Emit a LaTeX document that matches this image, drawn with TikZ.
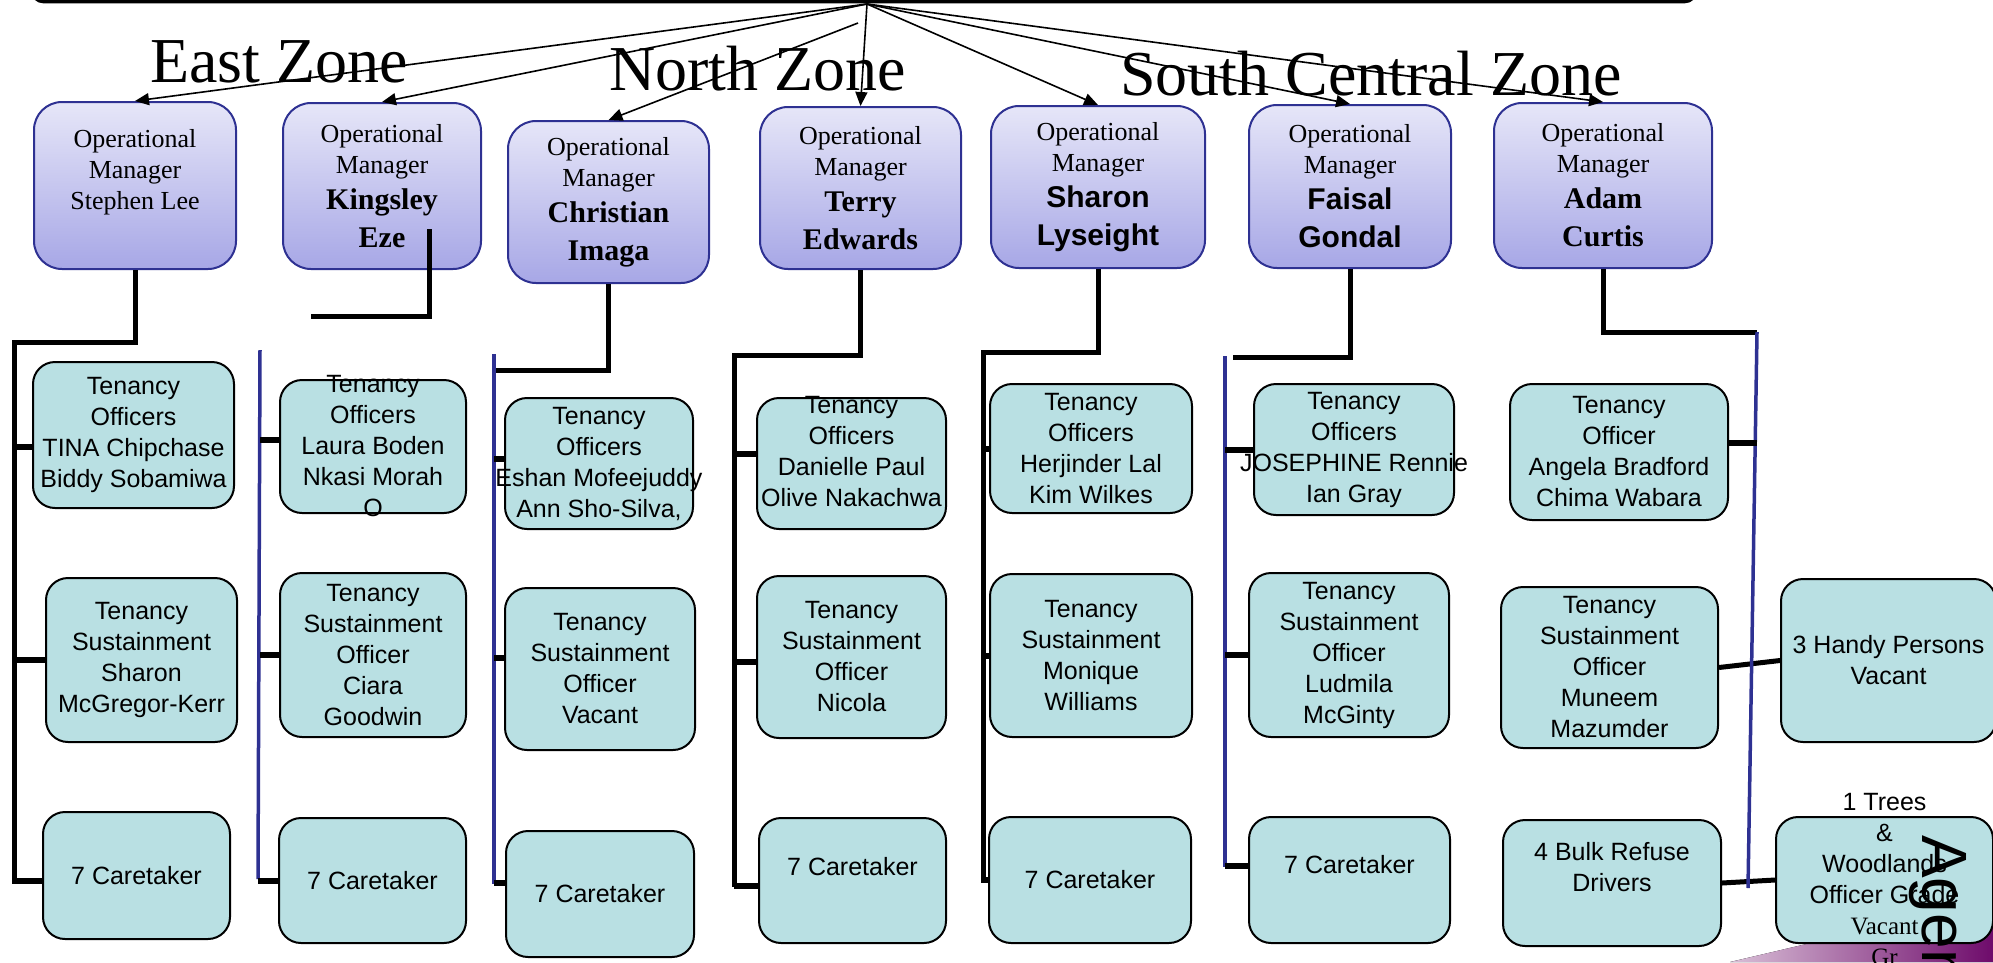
\documentclass[tikz,border=0pt]{standalone}
\usepackage{fontspec}
\setmainfont{Liberation Serif}
\setsansfont{Liberation Sans}
\usetikzlibrary{arrows.meta}
\definecolor{navy}{HTML}{2E3192}
\definecolor{lilactop}{HTML}{E6E6F8}
\definecolor{lilacbot}{HTML}{A7A7E6}
\definecolor{kidfill}{HTML}{B9E0E3}
\definecolor{plumA}{HTML}{D9BFD7}
\definecolor{plumB}{HTML}{A56BA1}
\definecolor{plumC}{HTML}{6E0B6B}
\newcommand\nmb{\fontsize{30}{38}\selectfont\bfseries}
\newcommand\nms{\fontsize{30}{38}\selectfont\sffamily\bfseries}
\begin{document}
\begin{tikzpicture}[x=1pt,y=-1pt,
 mgr/.style={draw=navy,line width=2pt,rounded corners=28pt,top color=lilactop,bottom color=lilacbot},
 mtxt/.style={align=center,inner sep=0pt,font=\fontsize{26}{31}\selectfont},
 kid/.style={draw,line width=2pt,rounded corners=22pt,fill=kidfill},
 ktxt/.style={align=center,inner sep=0pt,font=\fontsize{25}{31}\selectfont\sffamily},
 zone/.style={anchor=base west,inner sep=0pt,font=\fontsize{64}{70}\selectfont},
 feed/.style={line width=1.6pt,-{Triangle[length=14pt,width=12pt]}},
 wire/.style={line width=5pt},
 stub/.style={line width=6pt},
 bus/.style={line width=3.5pt,draw=navy}]
\useasboundingbox (0,0) rectangle (1993,962);
\fill[left color=plumA,middle color=plumB,right color=plumC] (1730,962) -- (1993,900) -- (1993,962) -- cycle;
\draw[line width=3.5pt,rounded corners=10pt] (33,-30) -- (33,1.5) -- (1695,1.5) -- (1695,-30);
\node[zone] (east) at (150,82) {East Zone};
\node[zone] (north) at (609,90) {North Zone};
\node[zone] (south) at (1120,95) {South Central Zone};
\path (135,185.5) node[mgr,minimum width=202pt,minimum height=167pt] (m1) {} node[mtxt,yshift=13pt] (m1t) {Operational\\Manager\\Stephen Lee};
\path (382,186) node[mgr,minimum width=198pt,minimum height=166pt] (m2) {} node[mtxt] (m2t) {Operational\\Manager\\[5pt]\nmb Kingsley\\[7pt]\nmb Eze};
\path (608.5,202) node[mgr,minimum width=201pt,minimum height=162pt] (m3) {} node[mtxt] (m3t) {Operational\\Manager\\[5pt]\nmb Christian\\[7pt]\nmb Imaga};
\path (860.5,188) node[mgr,minimum width=201pt,minimum height=162pt] (m4) {} node[mtxt] (m4t) {Operational\\Manager\\[5pt]\nmb Terry\\[7pt]\nmb Edwards};
\path (1098,187) node[mgr,minimum width=214pt,minimum height=162pt] (m5) {} node[mtxt] (m5t) {Operational\\Manager\\[5pt]\nms Sharon\\[7pt]\nms Lyseight};
\path (1350,186.5) node[mgr,minimum width=202pt,minimum height=163pt] (m6) {} node[mtxt] (m6t) {Operational\\Manager\\[5pt]\nms Faisal\\[7pt]\nms Gondal};
\path (1603,185.5) node[mgr,minimum width=218pt,minimum height=165pt] (m7) {} node[mtxt] (m7t) {Operational\\Manager\\[5pt]\nmb Adam\\[7pt]\nmb Curtis};
\coordinate (hub) at (867,4); \coordinate (hubb) at (858,23);
\draw[feed] (hub) -- (m1.north);
\draw[feed] (hub) -- (m2.north);
\draw[feed] (hubb) -- (m3.north);
\draw[feed] (hub) -- (m4.north);
\draw[feed] (hub) -- (m5.north);
\draw[feed] (hub) -- (m6.north);
\draw[feed] (hub) -- (m7.north);
\path (133.5,435) node[kid,minimum width=201pt,minimum height=146pt] (a1) {} node[ktxt] (a1t) {Tenancy\\Officers\\TINA Chipchase\\Biddy Sobamiwa};
\path (141.5,660) node[kid,minimum width=191pt,minimum height=164pt] (b1) {} node[ktxt] (b1t) {Tenancy\\Sustainment\\Sharon\\McGregor-Kerr};
\path (136.5,875.5) node[kid,minimum width=187pt,minimum height=127pt] (c1) {} node[ktxt] (c1t) {7 Caretaker};
\path (373,446.5) node[kid,minimum width=186pt,minimum height=133pt] (a2) {} node[ktxt] (a2t) {Tenancy\\Officers\\Laura Boden\\Nkasi Morah\\O};
\path (373,655) node[kid,minimum width=186pt,minimum height=164pt] (b2) {} node[ktxt] (b2t) {Tenancy\\Sustainment\\Officer\\Ciara\\Goodwin};
\path (372.5,880.5) node[kid,minimum width=187pt,minimum height=125pt] (c2) {} node[ktxt] (c2t) {7 Caretaker};
\path (599,463.5) node[kid,minimum width=188pt,minimum height=131pt] (a3) {} node[ktxt] (a3t) {Tenancy\\Officers\\Eshan Mofeejuddy\\Ann Sho-Silva,};
\path (600,669) node[kid,minimum width=190pt,minimum height=162pt] (b3) {} node[ktxt] (b3t) {Tenancy\\Sustainment\\Officer\\Vacant};
\path (600,894) node[kid,minimum width=188pt,minimum height=126pt] (c3) {} node[ktxt] (c3t) {7 Caretaker};
\path (851.5,463.5) node[kid,minimum width=189pt,minimum height=131pt] (a4) {} node[ktxt,yshift=12pt] (a4t) {Tenancy\\Officers\\Danielle Paul\\Olive Nakachwa};
\path (851.5,657) node[kid,minimum width=189pt,minimum height=162pt] (b4) {} node[ktxt] (b4t) {Tenancy\\Sustainment\\Officer\\Nicola};
\path (852.5,880.5) node[kid,minimum width=187pt,minimum height=125pt] (c4) {} node[ktxt,yshift=14pt] (c4t) {7 Caretaker};
\path (1091,448.5) node[kid,minimum width=202pt,minimum height=129pt] (a5) {} node[ktxt] (a5t) {Tenancy\\Officers\\Herjinder Lal\\Kim Wilkes};
\path (1091,655.5) node[kid,minimum width=202pt,minimum height=163pt] (b5) {} node[ktxt] (b5t) {Tenancy\\Sustainment\\Monique\\Williams};
\path (1090,880) node[kid,minimum width=202pt,minimum height=126pt] (c5) {} node[ktxt] (c5t) {7 Caretaker};
\path (1354,449.5) node[kid,minimum width=200pt,minimum height=131pt] (a6) {} node[ktxt] (a6t) {Tenancy\\Officers\\JOSEPHINE Rennie\\Ian Gray};
\path (1349,655) node[kid,minimum width=200pt,minimum height=164pt] (b6) {} node[ktxt] (b6t) {Tenancy\\Sustainment\\Officer\\Ludmila\\McGinty};
\path (1349.5,880) node[kid,minimum width=201pt,minimum height=126pt] (c6) {} node[ktxt,yshift=15pt] (c6t) {7 Caretaker};
\path (1619,452) node[kid,minimum width=218pt,minimum height=136pt] (a7) {} node[ktxt] (a7t) {Tenancy\\Officer\\Angela Bradford\\Chima Wabara};
\path (1609.5,667.5) node[kid,minimum width=217pt,minimum height=161pt] (b7) {} node[ktxt] (b7t) {Tenancy\\Sustainment\\Officer\\Muneem\\Mazumder};
\path (1612,883) node[kid,minimum width=218pt,minimum height=126pt] (c7) {} node[ktxt,yshift=16pt] (c7t) {4 Bulk Refuse\\Drivers};
\path (1888.5,660.5) node[kid,minimum width=215pt,minimum height=163pt] (d7) {} node[ktxt] (d7t) {3 Handy Persons\\Vacant};
\path (1884.5,880) node[kid,minimum width=217pt,minimum height=126pt] (e7) {} node[ktxt] (e7t) {1 Trees\\\&\\Woodlands\\Officer Grade\\\rmfamily Vacant\\\rmfamily Gr};
\coordinate (t1) at (14,342); \coordinate (u1) at (14,884);
\draw[wire] (m1.south) |- (t1) -- (u1);
\draw[stub] ([yshift=-12pt]a1.west) -- ([yshift=-12pt]a1.west -| t1);
\draw[stub] (b1.west) -- (b1.west -| t1);
\draw[stub] ([yshift=-5pt]c1.west) -- ([yshift=-5pt]c1.west -| t1);
\coordinate (e2) at (311,316); \coordinate (t2) at (260,350); \coordinate (u2) at (258,879);
\draw[wire] ([shift={(47,43)}]m2.center) |- (e2);
\draw[bus] (t2) -- (u2);
\draw[stub] ([yshift=7pt]a2.west) -- ([yshift=7pt]a2.west -| t2);
\draw[stub] (b2.west) -- (b2.west -| t2);
\draw[stub] (c2.west) -- (c2.west -| u2);
\coordinate (j3) at (494,370); \coordinate (t3) at (494,354); \coordinate (u3) at (494,884);
\draw[wire] (m3.south) |- (j3);
\draw[bus] (t3) -- (u3);
\draw[stub] ([yshift=5pt]a3.west) -- ([yshift=5pt]a3.west -| t3);
\draw[stub] ([yshift=11pt]b3.west) -- ([yshift=11pt]b3.west -| t3);
\draw[stub] ([yshift=11pt]c3.west) -- ([yshift=11pt]c3.west -| t3);
\coordinate (t4) at (734,355); \coordinate (u4) at (734,887);
\draw[wire] (m4.south) |- (t4) -- (u4);
\draw[stub] ([yshift=10pt]a4.west) -- ([yshift=10pt]a4.west -| t4);
\draw[stub] ([yshift=-5pt]b4.west) -- ([yshift=-5pt]b4.west -| t4);
\draw[stub] ([yshift=-5pt]c4.west) -- ([yshift=-5pt]c4.west -| t4);
\coordinate (t5) at (983,352); \coordinate (u5) at (983,883);
\draw[wire] (m5.south) |- (t5) -- (u5);
\draw[stub] (a5.west) -- (a5.west -| t5);
\draw[stub] (b5.west) -- (b5.west -| t5);
\draw[stub] (c5.west) -- (c5.west -| t5);
\coordinate (j6) at (1233,357); \coordinate (t6) at (1225,356); \coordinate (u6) at (1225,867);
\draw[wire] (m6.south) |- (j6);
\draw[bus] (t6) -- (u6);
\draw[stub] (a6.west) -- (a6.west -| t6);
\draw[stub] (b6.west) -- (b6.west -| t6);
\draw[stub] ([yshift=14pt]c6.west) -- ([yshift=14pt]c6.west -| t6);
\coordinate (t7) at (1757,332); \coordinate (u7) at (1748,888);
\draw[wire] (m7.south) |- (t7);
\draw[wire] (b7.east) -- (d7.west);
\draw[wire] (c7.east) -- (e7.west);
\draw[bus] (t7) -- (u7);
\draw[stub] ([yshift=9pt]a7.east) -- ([yshift=9pt]a7.east -| t7);
\node[rotate=-90,anchor=base west,inner sep=0pt,font=\fontsize{64}{70}\selectfont\sffamily] (agen) at (1922,835) {Agen};
\end{tikzpicture}
\end{document}
